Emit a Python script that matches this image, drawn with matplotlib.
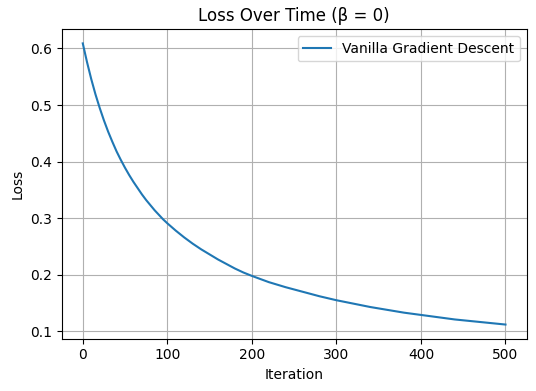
import matplotlib
matplotlib.use("Agg")
import matplotlib.pyplot as plt

# loss values
iterations = [0, 5, 10, 15, 20, 25, 30, 35, 40, 45, 50, 55, 60, 65, 70,
              75, 80, 85, 90, 95, 100, 110, 120, 130, 140, 150, 160, 170,
              180, 190, 200, 220, 240, 260, 280, 300, 320, 340, 360, 380,
              400, 420, 440, 460, 480, 500]
loss = [0.609, 0.576, 0.546, 0.519, 0.495, 0.473, 0.453, 0.435, 0.418,
        0.403, 0.389, 0.376, 0.364, 0.353, 0.342, 0.332, 0.323, 0.314,
        0.306, 0.298, 0.291, 0.278, 0.266, 0.255, 0.245, 0.236, 0.227,
        0.219, 0.211, 0.204, 0.198, 0.187, 0.178, 0.170, 0.162, 0.155,
        0.149, 0.143, 0.138, 0.133, 0.129, 0.125, 0.121, 0.118, 0.115,
        0.112]

fig, ax = plt.subplots(figsize=(5.36, 3.91), dpi=100)
fig.subplots_adjust(left=0.115, right=0.9825, top=0.925, bottom=0.134)

ax.plot(iterations, loss, label="Vanilla Gradient Descent")
ax.set_title("Loss Over Time (β = 0)")
ax.set_xlabel("Iteration")
ax.set_ylabel("Loss")
ax.legend(loc="upper right")
ax.grid(True)

fig.savefig("out.png")
